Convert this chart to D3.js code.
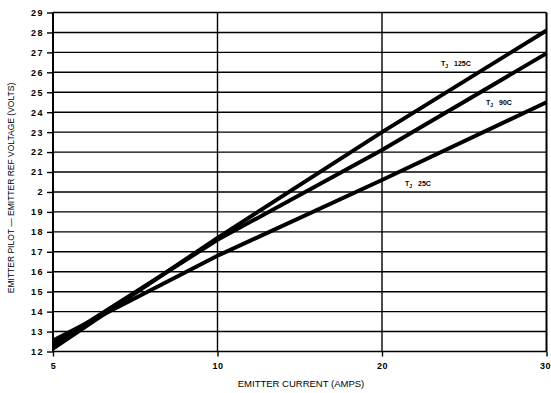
<!DOCTYPE html>
<html>
<head>
<meta charset="UTF-8">
<script src="https://cdn.jsdelivr.net/npm/d3@7"></script>
<style>
body { margin: 0; background: #fff; }
svg { font-family: "Liberation Sans", Arial, sans-serif; }
.grid line { stroke: #000; stroke-width: 1.4px; }
.tick text { font-weight: bold; font-size: 9px; letter-spacing: 1.5px; }
.curve { fill: none; stroke: #000; stroke-width: 4px; }
</style>
</head>
<body>
<svg width="551" height="393"></svg>
<script>
// x positions on the chart (5, 10, 20, 30 are equally spaced on the original)
var currents = [5, 10, 20, 30];
var yTicks = [12, 13, 14, 15, 16, 17, 18, 19, 20, 21, 22, 23, 24, 25, 26, 27, 28, 29];
var yTickLabels = ["12", "13", "14", "15", "16", "17", "18", "19", "2", "21", "22", "23", "24", "25", "26", "27", "28", "29"];
var v125 = [12.15, 17.7, 23.0, 28.1];
var v90 = [12.35, 17.6, 22.1, 26.95];
var v25 = [12.55, 16.8, 20.6, 24.5];

var svg = d3.select("svg");
var x = d3.scaleLinear().domain(currents).range([53, 217.5, 382, 546.5]);
var y = d3.scaleLinear().domain([12, 29]).range([351.5, 12.5]);

// horizontal grid
svg.append("g").attr("class", "grid")
  .selectAll("line").data(yTicks).enter().append("line")
  .attr("x1", x(5)).attr("x2", x(30))
  .attr("y1", function(d){ return y(d); })
  .attr("y2", function(d){ return y(d); });
// vertical grid
svg.append("g").attr("class", "grid")
  .selectAll("line").data(currents).enter().append("line")
  .attr("x1", function(d){ return x(d); })
  .attr("x2", function(d){ return x(d); })
  .attr("y1", y(29)).attr("y2", y(12))
  .style("stroke-width", function(d){ return (d == 5 || d == 30) ? "2px" : "1.4px"; });

svg.append("g")
  .attr("transform", "translate(" + x(5) + ",0)")
  .call(d3.axisLeft(y).tickValues(yTicks).tickSize(6).tickPadding(3)
    .tickFormat(function(d, i){ return yTickLabels[i]; }))
  .call(function(g){ g.select(".domain").remove(); g.selectAll(".tick line").attr("stroke-width", 1.4); });

svg.append("g")
  .attr("transform", "translate(0," + y(12) + ")")
  .call(d3.axisBottom(x).tickValues(currents).tickSize(5).tickPadding(6).tickFormat(d3.format("d")))
  .call(function(g){
    g.select(".domain").remove();
    g.selectAll(".tick line").attr("stroke-width", 1.4);
    g.selectAll(".tick text").style("letter-spacing", "0.5px")
      .attr("text-anchor", function(d){ return d == 30 ? "end" : "middle"; })
      .attr("dx", function(d){ return d == 30 ? 4 : 0; });
  });

var line = d3.line()
  .x(function(d, i){ return x(currents[i]); })
  .y(function(d){ return y(d); });

[v125, v90, v25].forEach(function(s){
  svg.append("path").attr("class", "curve").attr("d", line(s));
});

// curve labels
function label(xp, yp, t){
  var tx = svg.append("text").attr("x", xp).attr("y", yp)
    .style("font-size", "7px").style("font-weight", "bold");
  tx.append("tspan").text("T");
  tx.append("tspan").attr("dy", 1.5).style("font-size", "5px").text("J");
  tx.append("tspan").attr("dy", -1.5).attr("dx", 6).text(t);
}
label(441, 66, "125C");
label(486, 105, "90C");
label(405, 186, "25C");

svg.append("text")
  .attr("x", 301).attr("y", 387)
  .attr("text-anchor", "middle")
  .style("font-size", "9.5px")
  .text("EMITTER CURRENT (AMPS)");

svg.append("text")
  .attr("transform", "translate(14,188) rotate(-90)")
  .attr("text-anchor", "middle")
  .style("font-size", "8.5px")
  .text("EMITTER PILOT \u2014 EMITTER REF VOLTAGE (VOLTS)");
</script>
</body>
</html>
